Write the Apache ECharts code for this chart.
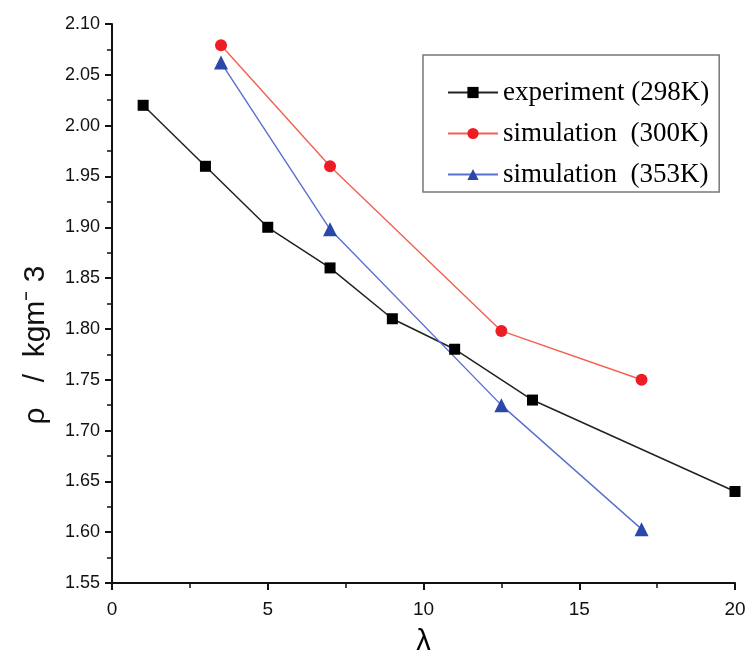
<!DOCTYPE html>
<html>
<head>
<meta charset="utf-8">
<script src="https://cdn.jsdelivr.net/npm/echarts@6/dist/echarts.min.js"></script>
<style>html,body{margin:0;padding:0;background:#fff;}#c{width:746px;height:654px;}</style>
</head>
<body>
<div id="c"></div>
<script>
var expX = [1, 3, 5, 7, 9, 11, 13.5, 20];
var expY = [2.02, 1.96, 1.90, 1.86, 1.81, 1.78, 1.73, 1.64];
var sim300X = [3.5, 7, 12.5, 17];
var sim300Y = [2.079, 1.96, 1.798, 1.75];
var sim353X = [3.5, 7, 12.5, 17];
var sim353Y = [2.062, 1.898, 1.725, 1.603];
var seriesNames = ['experiment (298K)', 'simulation  (300K)', 'simulation  (353K)'];

function pairs(xs, ys) { return xs.map(function (x, i) { return [x, ys[i]]; }); }

var chart = echarts.init(document.getElementById('c'), null, { renderer: 'canvas' });
var axisFont = 'Liberation Sans, Arial, sans-serif';
chart.setOption({
  animation: false,
  backgroundColor: '#fff',
  grid: { left: 112, right: 11, top: 24, bottom: 71, containLabel: false, outerBoundsMode: 'none' },
  legend: {
    left: 423, top: 55,
    orient: 'vertical',
    data: seriesNames,
    itemWidth: 50, itemHeight: 14, itemGap: 14,
    padding: [24, 10, 4, 24],
    borderColor: '#777', borderWidth: 1.5, borderRadius: 0,
    textStyle: { fontFamily: 'Liberation Serif, Times New Roman, serif', fontSize: 27, color: '#000', lineHeight: 26 }
  },
  xAxis: {
    type: 'value', min: 0, max: 20, interval: 5,
    name: 'λ', nameLocation: 'middle', nameGap: 44,
    nameTextStyle: { fontFamily: axisFont, fontSize: 29, color: '#000' },
    axisLine: { lineStyle: { color: '#111', width: 2 } },
    axisTick: { show: true, inside: false, length: 7, lineStyle: { color: '#111', width: 2 } },
    minorTick: { show: true, splitNumber: 2, length: 5, lineStyle: { color: '#111', width: 1.5 } },
    axisLabel: { margin: 17, fontFamily: axisFont, fontSize: 19, color: '#111' },
    splitLine: { show: false }
  },
  yAxis: {
    type: 'value', min: 1.55, max: 2.10, interval: 0.05,
    axisLine: { show: true, lineStyle: { color: '#111', width: 2 } },
    axisTick: { show: true, inside: false, length: 7, lineStyle: { color: '#111', width: 2 } },
    minorTick: { show: true, splitNumber: 2, length: 5, lineStyle: { color: '#111', width: 1.5 } },
    axisLabel: { margin: 12, fontFamily: axisFont, fontSize: 18, color: '#111',
      formatter: function (v) { return v.toFixed(2); } },
    splitLine: { show: false }
  },
  graphic: [{
    type: 'text', x: 36, y: 345, rotation: Math.PI / 2,
    style: { text: 'ρ   /  kgm⁻ 3', font: '30px ' + axisFont, fill: '#111', textAlign: 'center', textVerticalAlign: 'middle' }
  }],
  series: [
    {
      name: seriesNames[0], type: 'line', data: pairs(expX, expY),
      symbol: 'rect', symbolSize: 11, clip: true,
      lineStyle: { color: '#222', width: 1.5 },
      itemStyle: { color: '#000' }
    },
    {
      name: seriesNames[1], type: 'line', data: pairs(sim300X, sim300Y),
      symbol: 'circle', symbolSize: 12,
      lineStyle: { color: '#f4604f', width: 1.4 },
      itemStyle: { color: '#ee1c25' }
    },
    {
      name: seriesNames[2], type: 'line', data: pairs(sim353X, sim353Y),
      symbol: 'triangle', symbolSize: 14,
      lineStyle: { color: '#5a6fd0', width: 1.4 },
      itemStyle: { color: '#2b48a8' }
    }
  ]
});
</script>
</body>
</html>
